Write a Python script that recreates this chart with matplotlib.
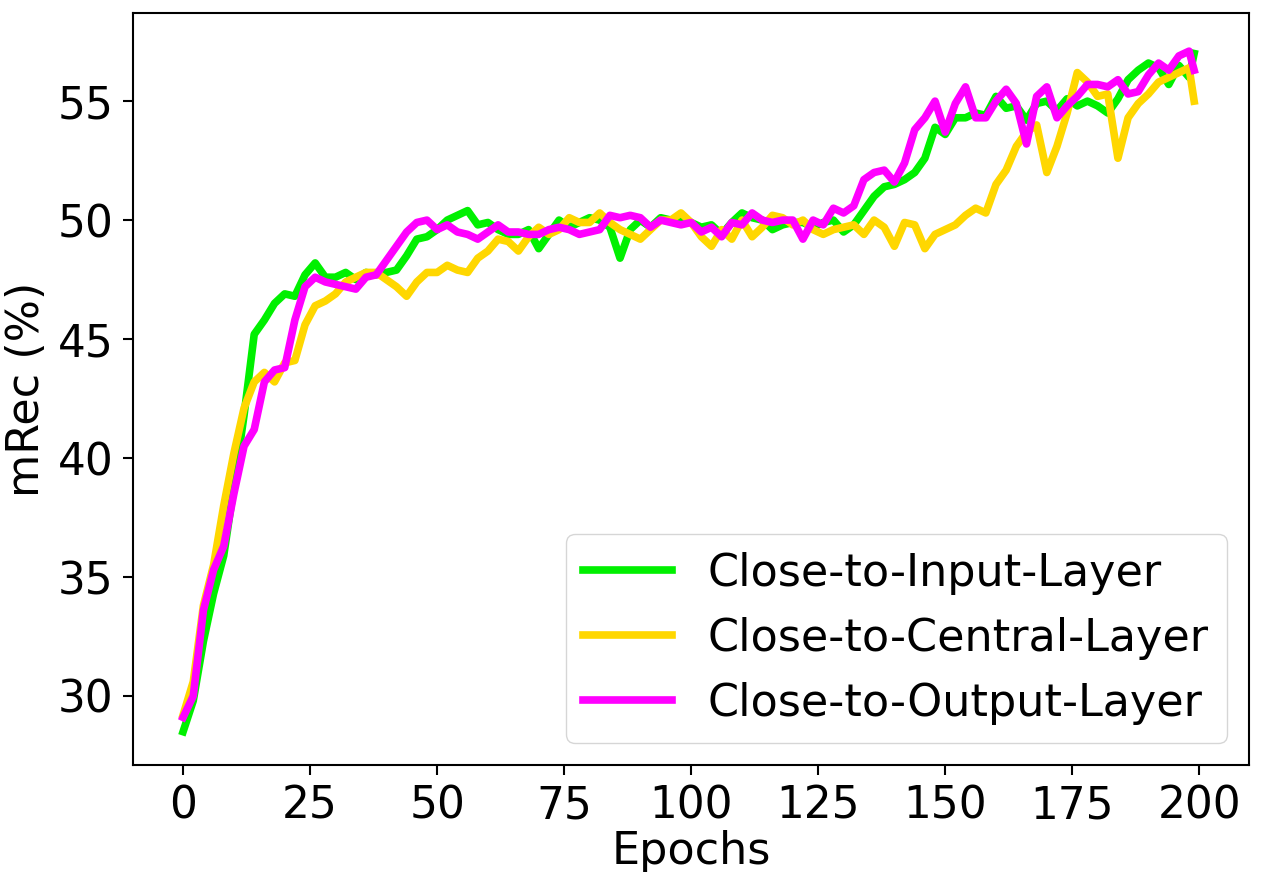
import numpy as np
import matplotlib
matplotlib.use("Agg")
import matplotlib.pyplot as plt

epochs = list(range(0, 200, 2)) + [199]

close_input = [
    28.5, 29.8, 32.3, 34.3, 35.9, 38.8, 41.8, 45.2, 45.8, 46.5,   # 0-18
    46.9, 46.8, 47.7, 48.2, 47.6, 47.6, 47.8, 47.5, 47.8, 47.7,   # 20-38
    47.8, 47.9, 48.5, 49.2, 49.3, 49.6, 50.0, 50.2, 50.4, 49.8,   # 40-58
    49.9, 49.6, 49.4, 49.4, 49.6, 48.8, 49.4, 50.0, 49.7, 49.9,   # 60-78
    50.1, 50.0, 49.7, 48.4, 49.6, 50.0, 49.7, 50.1, 50.0, 50.0,   # 80-98
    49.9, 49.7, 49.8, 49.4, 49.9, 50.3, 50.1, 50.0, 49.6, 49.8,   # 100-118
    49.9, 49.9, 49.7, 49.9, 50.0, 49.5, 49.8, 50.4, 51.0, 51.4,   # 120-138
    51.5, 51.7, 52.0, 52.6, 53.9, 53.6, 54.3, 54.3, 54.5, 54.4,   # 140-158
    55.2, 54.7, 54.8, 54.2, 54.9, 55.0, 54.6, 55.1, 54.8, 55.0,   # 160-178
    54.8, 54.5, 55.1, 55.9, 56.3, 56.6, 56.4, 55.7, 56.5, 56.0,   # 180-198
    57.0,                                                         # 199
]

close_central = [
    29.2, 30.6, 33.8, 35.5, 38.0, 40.2, 42.1, 43.2, 43.6, 43.2,
    44.0, 44.1, 45.6, 46.4, 46.6, 46.9, 47.4, 47.6, 47.8, 47.8,
    47.5, 47.2, 46.8, 47.4, 47.8, 47.8, 48.1, 47.9, 47.8, 48.4,
    48.7, 49.2, 49.1, 48.7, 49.3, 49.7, 49.4, 49.6, 50.1, 49.9,
    49.9, 50.3, 49.9, 49.6, 49.4, 49.2, 49.6, 50.0, 50.0, 50.3,
    49.9, 49.3, 48.9, 49.6, 49.2, 50.0, 49.3, 49.7, 50.2, 50.1,
    49.8, 50.0, 49.6, 49.4, 49.6, 49.7, 49.8, 49.4, 50.0, 49.7,
    48.9, 49.9, 49.8, 48.8, 49.4, 49.6, 49.8, 50.2, 50.5, 50.3,
    51.5, 52.1, 53.1, 53.7, 54.0, 52.0, 53.1, 54.5, 56.2, 55.8,
    55.2, 55.3, 52.6, 54.3, 54.9, 55.3, 55.8, 56.0, 56.2, 56.4,
    55.0,
]

close_output = [
    29.1, 30.0, 33.6, 35.3, 36.3, 38.5, 40.5, 41.2, 43.2, 43.7,
    43.8, 45.8, 47.2, 47.6, 47.4, 47.3, 47.2, 47.1, 47.6, 47.7,
    48.3, 48.9, 49.5, 49.9, 50.0, 49.6, 49.8, 49.5, 49.4, 49.2,
    49.5, 49.8, 49.5, 49.5, 49.4, 49.4, 49.6, 49.7, 49.6, 49.4,
    49.5, 49.6, 50.2, 50.1, 50.2, 50.1, 49.7, 50.0, 49.9, 49.8,
    49.9, 49.5, 49.7, 49.3, 49.9, 49.8, 50.3, 50.0, 49.9, 50.0,
    50.0, 49.2, 50.0, 49.8, 50.5, 50.3, 50.6, 51.7, 52.0, 52.1,
    51.6, 52.4, 53.8, 54.3, 55.0, 53.7, 54.9, 55.6, 54.3, 54.3,
    55.0, 55.5, 54.9, 53.2, 55.2, 55.6, 54.3, 54.8, 55.2, 55.7,
    55.7, 55.6, 55.9, 55.3, 55.4, 56.1, 56.6, 56.3, 56.9, 57.1,
    56.3,
]

series_names = ["Close-to-Input-Layer", "Close-to-Central-Layer", "Close-to-Output-Layer"]
colors = ["#00f000", "#ffd700", "#ff00ff"]

plt.rcParams.update({
    "font.size": 32,
    "axes.labelsize": 32,
    "xtick.labelsize": 31.5,
    "ytick.labelsize": 31.5,
    "legend.fontsize": 32,
    "lines.linewidth": 5.5,
    "axes.linewidth": 1.5,
    "xtick.major.size": 7,
    "ytick.major.size": 7,
    "xtick.major.width": 1.5,
    "ytick.major.width": 1.5,
    "xtick.major.pad": 7,
    "ytick.major.pad": 7,
    "axes.labelpad": 7,
})

fig = plt.figure(figsize=(12.61, 8.72), dpi=100)
ax = fig.add_axes([0.1055, 0.1227, 0.885, 0.8623])

for vals, name, c in zip([close_input, close_central, close_output], series_names, colors):
    ax.plot(epochs, vals, color=c, label=name)

ax.set_xlim(-9.85, 209.8)
ax.set_ylim(27.1, 58.7)
ax.set_xticks([0, 25, 50, 75, 100, 125, 150, 175, 200])
ax.set_yticks([30, 35, 40, 45, 50, 55])
ax.set_xlabel("Epochs", labelpad=2)
ax.set_ylabel("mRec (%)")
ax.legend(loc="lower right")

fig.savefig("out.png", dpi=100)
